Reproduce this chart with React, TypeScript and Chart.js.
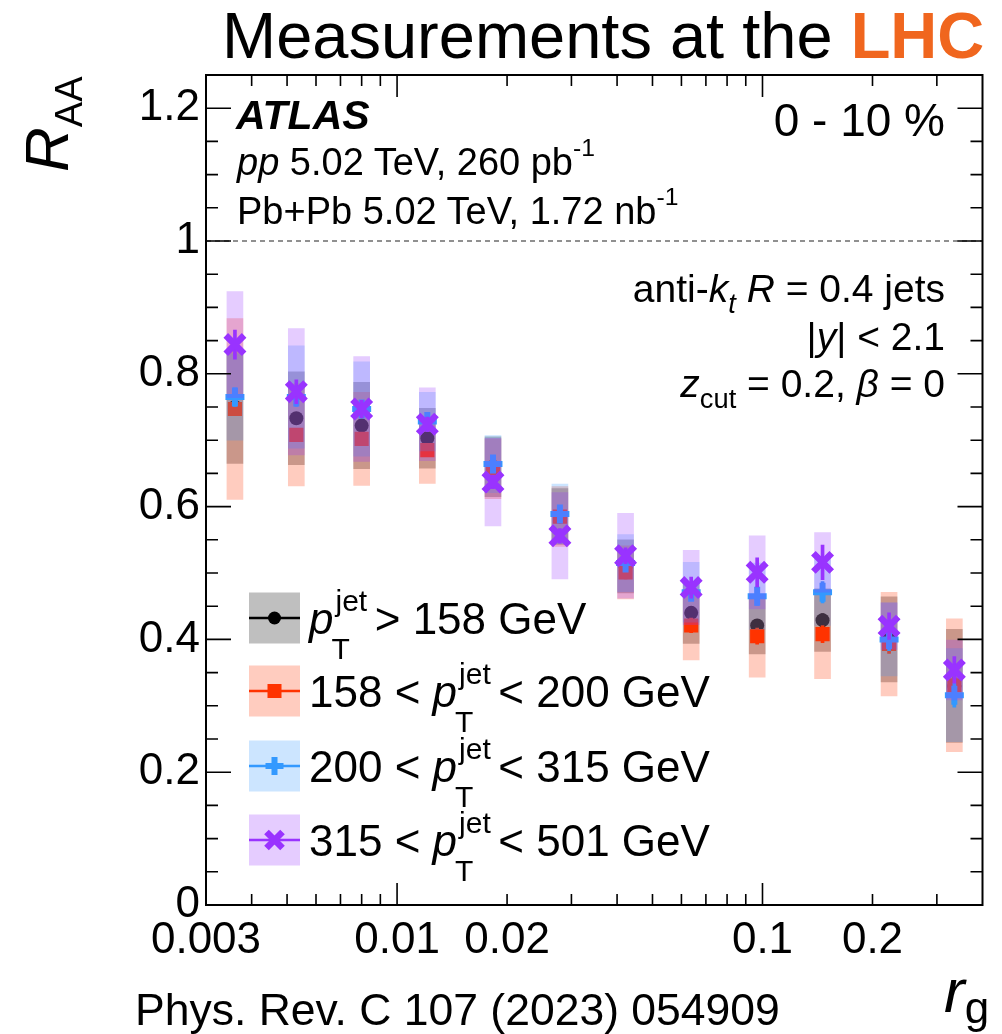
import React, { useEffect, useRef } from "react";
import { Chart, registerables } from "chart.js";

Chart.register(...registerables);

// ---------------- data ----------------
const rgBins = [0.0036, 0.0053, 0.008, 0.0121, 0.0183, 0.0279, 0.0422, 0.0638, 0.0967, 0.146, 0.222, 0.335];

// pT jet > 158 GeV (inclusive)
const incValues = [0.75, 0.733, 0.722, 0.703, 0.66, 0.585, 0.51, 0.44, 0.421, 0.429, 0.4, 0.33];
const incSyst = [0.085, 0.07, 0.065, 0.045, 0.045, 0.042, 0.04, 0.046, 0.043, 0.047, 0.064, 0.085];
const incStat = [0.006, 0.006, 0.006, 0.006, 0.006, 0.007, 0.007, 0.008, 0.009, 0.01, 0.011, 0.013];

// 158 < pT < 200 GeV
const lowValues = [0.747, 0.708, 0.702, 0.685, 0.657, 0.585, 0.501, 0.421, 0.405, 0.408, 0.393, 0.331];
const lowSyst = [0.136, 0.077, 0.07, 0.05, 0.045, 0.045, 0.04, 0.052, 0.062, 0.067, 0.078, 0.1];
const lowStat = [0.01, 0.009, 0.008, 0.008, 0.008, 0.009, 0.01, 0.011, 0.012, 0.013, 0.014, 0.016];

// 200 < pT < 315 GeV
const midValues = [0.765, 0.765, 0.747, 0.728, 0.664, 0.589, 0.515, 0.471, 0.465, 0.471, 0.4, 0.316];
const midSyst = [0.065, 0.077, 0.071, 0.044, 0.043, 0.045, 0.043, 0.045, 0.05, 0.05, 0.055, 0.07];
const midStat = [0.014, 0.014, 0.01, 0.009, 0.008, 0.009, 0.01, 0.012, 0.014, 0.016, 0.017, 0.018];

// 315 < pT < 501 GeV
const highValues = [0.844, 0.773, 0.747, 0.724, 0.637, 0.556, 0.526, 0.478, 0.501, 0.516, 0.42, 0.354];
const highSyst = [0.08, 0.095, 0.079, 0.055, 0.066, 0.065, 0.064, 0.056, 0.055, 0.045, 0.035, 0.045];
const highStat = [0.022, 0.018, 0.013, 0.011, 0.01, 0.011, 0.012, 0.016, 0.022, 0.026, 0.02, 0.02];

const xTickValues = [0.003, 0.01, 0.02, 0.1, 0.2];
const xTickLabels = ["0.003", "0.01", "0.02", "0.1", "0.2"];
const yTickValues = [0, 0.2, 0.4, 0.6, 0.8, 1, 1.2];
const yTickLabels = ["0", "0.2", "0.4", "0.6", "0.8", "1", "1.2"];

// ---------------- styles ----------------
const FONT = "'Liberation Sans', Arial, Helvetica, sans-serif";
const W = 1002;
const H = 1034;

const series = [
  { key: "inc", values: incValues, syst: incSyst, stat: incStat, color: "#000000", fill: "rgba(0,0,0,0.28)", legendFill: "rgba(0,0,0,0.25)", shape: "circle" },
  { key: "low", values: lowValues, syst: lowSyst, stat: lowStat, color: "#ff3300", fill: "rgba(255,51,0,0.25)", legendFill: "rgba(255,51,0,0.25)", shape: "rect" },
  { key: "mid", values: midValues, syst: midSyst, stat: midStat, color: "#3399ff", fill: "rgba(51,153,255,0.25)", legendFill: "rgba(51,153,255,0.25)", shape: "cross" },
  { key: "high", values: highValues, syst: highSyst, stat: highStat, color: "#9933ff", fill: "rgba(153,51,255,0.25)", legendFill: "rgba(153,51,255,0.25)", shape: "crossRot" },
];

const pointStyleOpts: Record<string, any> = {
  circle: { pointStyle: "circle", pointRadius: 7, pointBorderWidth: 0 },
  rect: { pointStyle: "rect", pointRadius: 10, pointBorderWidth: 0 },
  cross: { pointStyle: "cross", pointRadius: 9.5, pointBorderWidth: 6 },
  crossRot: { pointStyle: "crossRot", pointRadius: 13, pointBorderWidth: 6.5 },
};

const legendRowsY = [618, 691, 766, 840];

function drawMarker(ctx: CanvasRenderingContext2D, shape: string, x: number, y: number, color: string) {
  ctx.save();
  ctx.fillStyle = color;
  ctx.strokeStyle = color;
  if (shape === "circle") {
    ctx.beginPath();
    ctx.arc(x, y, 6.5, 0, Math.PI * 2);
    ctx.fill();
  } else if (shape === "rect") {
    ctx.fillRect(x - 7, y - 7, 14, 14);
  } else if (shape === "cross") {
    ctx.lineWidth = 6;
    ctx.beginPath();
    ctx.moveTo(x - 9, y);
    ctx.lineTo(x + 9, y);
    ctx.moveTo(x, y - 9);
    ctx.lineTo(x, y + 9);
    ctx.stroke();
  } else {
    ctx.lineWidth = 6.5;
    ctx.beginPath();
    ctx.moveTo(x - 8, y - 8);
    ctx.lineTo(x + 8, y + 8);
    ctx.moveTo(x + 8, y - 8);
    ctx.lineTo(x - 8, y + 8);
    ctx.stroke();
  }
  ctx.restore();
}

const framePlugin = {
  id: "atlasFrame",
  beforeDatasetsDraw(chart: any) {
    const { ctx, chartArea: a } = chart;
    const ys = chart.scales.y;
    const py = ys.getPixelForValue(1);
    ctx.save();
    ctx.strokeStyle = "#222";
    ctx.lineWidth = 1.2;
    ctx.setLineDash([5, 4]);
    ctx.beginPath();
    ctx.moveTo(a.left, py);
    ctx.lineTo(a.right, py);
    ctx.stroke();
    ctx.restore();
  },
  afterDatasetsDraw(chart: any) {
    const { ctx, chartArea: a } = chart;
    const xs = chart.scales.x;
    const ys = chart.scales.y;
    ctx.save();
    ctx.strokeStyle = "#000";
    ctx.lineWidth = 2;
    ctx.strokeRect(a.left, a.top, a.right - a.left, a.bottom - a.top);
    ctx.lineWidth = 1.6;
    ctx.beginPath();
    for (const d of [0.001, 0.01, 0.1]) {
      for (let k = 1; k < 10; k++) {
        const v = k * d;
        if (v < xs.min * 1.001 || v > xs.max * 0.999) continue;
        const px = xs.getPixelForValue(v);
        const len = k === 1 ? 22 : 11;
        ctx.moveTo(px, a.bottom);
        ctx.lineTo(px, a.bottom - len);
        ctx.moveTo(px, a.top);
        ctx.lineTo(px, a.top + len);
      }
    }
    for (let i = 1; i < 25; i++) {
      const py = ys.getPixelForValue(i * 0.05);
      const len = i % 4 === 0 ? 25 : 12;
      ctx.moveTo(a.left, py);
      ctx.lineTo(a.left + len, py);
      ctx.moveTo(a.right, py);
      ctx.lineTo(a.right - len, py);
    }
    ctx.stroke();

    // legend symbols
    series.forEach((s, i) => {
      const cy = legendRowsY[i];
      ctx.fillStyle = s.legendFill;
      ctx.fillRect(249, cy - 25.5, 51, 51);
      ctx.strokeStyle = s.color;
      ctx.lineWidth = 2.5;
      ctx.beginPath();
      ctx.moveTo(249, cy);
      ctx.lineTo(300, cy);
      ctx.stroke();
      drawMarker(ctx, s.shape, 274.5, cy, s.color);
    });
    ctx.restore();
  },
};

function buildDatasets() {
  const ds: any[] = [];
  let order = 40;
  series.forEach((s) => {
    ds.push({
      type: "bar",
      label: s.key + " syst",
      data: rgBins.map((x, i) => ({ x, y: [s.values[i] - s.syst[i], s.values[i] + s.syst[i]] })),
      backgroundColor: s.fill,
      borderWidth: 0,
      barThickness: 16,
      grouped: false,
      order: order--,
    });
    ds.push({
      type: "bar",
      label: s.key + " stat",
      data: rgBins.map((x, i) => ({ x, y: [s.values[i] - s.stat[i], s.values[i] + s.stat[i]] })),
      backgroundColor: s.color,
      borderWidth: 0,
      barThickness: 3,
      grouped: false,
      order: order--,
    });
    ds.push({
      type: "scatter",
      label: s.key,
      data: rgBins.map((x, i) => ({ x, y: s.values[i] })),
      pointBackgroundColor: s.color,
      pointBorderColor: s.color,
      ...pointStyleOpts[s.shape],
      order: order--,
    });
  });
  return ds;
}

function Txt(props: any) {
  const { x, base, size, align = "left", bold, italic, color, children } = props;
  const style: any = {
    position: "absolute",
    top: base - 0.8465 * size,
    fontSize: size,
    lineHeight: 1,
    whiteSpace: "nowrap",
    fontWeight: bold ? "bold" : "normal",
    fontStyle: italic ? "italic" : "normal",
    color: color || "#000",
  };
  if (align === "left") style.left = x;
  else if (align === "right") style.right = W - x;
  else {
    style.left = x;
    style.transform = "translateX(-50%)";
  }
  return <div style={style}>{children}</div>;
}

const Sub = (p: any) => (
  <span style={{ fontSize: "0.7em", position: "relative", top: "0.4em", fontStyle: p.italic ? "italic" : "normal" }}>{p.children}</span>
);
const Sup = (p: any) => (
  <span style={{ fontSize: "0.65em", position: "relative", top: "-0.75em" }}>{p.children}</span>
);

const PT = () => (
  <span>
    <i>p</i>
    <span style={{ display: "inline-block", position: "relative", width: 29 }}>
      <span style={{ position: "absolute", left: 2, bottom: 18, fontSize: 30, lineHeight: 1 }}>jet</span>
      <span style={{ position: "absolute", left: -2, top: 0, fontSize: 30, lineHeight: 1 }}>T</span>
    </span>
  </span>
);

export default function App() {
  const ref = useRef<HTMLCanvasElement>(null);
  useEffect(() => {
    const chart = new Chart(ref.current as HTMLCanvasElement, {
      type: "bar",
      data: { datasets: buildDatasets() },
      options: {
        responsive: false,
        animation: false,
        devicePixelRatio: 1,
        layout: { padding: { top: 75, right: 5, left: 0, bottom: 0 } },
        plugins: { legend: { display: false }, tooltip: { enabled: false }, title: { display: false } },
        scales: {
          x: {
            type: "logarithmic",
            min: 0.003,
            max: 0.4,
            offset: false,
            grid: { display: false, drawTicks: false },
            border: { display: false },
            afterBuildTicks: (s: any) => {
              s.ticks = xTickValues.map((v) => ({ value: v }));
            },
            afterFit: (s: any) => {
              s.height = 129;
            },
            ticks: {
              autoSkip: false,
              maxRotation: 0,
              minRotation: 0,
              padding: 9,
              color: "#000",
              font: { family: FONT, size: 44 },
              callback: (_v: any, i: number) => xTickLabels[i],
            },
          },
          y: {
            type: "linear",
            min: 0,
            max: 1.25,
            grid: { display: false, drawTicks: false },
            border: { display: false },
            afterBuildTicks: (s: any) => {
              s.ticks = yTickValues.map((v) => ({ value: v }));
            },
            afterFit: (s: any) => {
              s.width = 206;
            },
            ticks: {
              padding: 6,
              color: "#000",
              font: { family: FONT, size: 44 },
              callback: (_v: any, i: number) => yTickLabels[i],
            },
          },
        },
      } as any,
      plugins: [framePlugin],
    });
    return () => chart.destroy();
  }, []);

  return (
    <div style={{ position: "absolute", left: 0, top: 0, width: W, height: H, background: "#fff", fontFamily: FONT, color: "#000", overflow: "hidden" }}>
      <canvas ref={ref} width={W} height={H} style={{ position: "absolute", left: 0, top: 0, display: "block" }} />

      <Txt x={222} base={58} size={65}>
        Measurements at the <b style={{ color: "#f0661e" }}>LHC</b>
      </Txt>

      <div
        style={{
          position: "absolute",
          left: 15.5,
          top: 172,
          transform: "rotate(-90deg)",
          transformOrigin: "0 0",
          lineHeight: 1,
          whiteSpace: "nowrap",
        }}
      >
        <i style={{ fontSize: 62 }}>R</i>
        <span style={{ fontSize: 38, position: "relative", top: 14 }}>AA</span>
      </div>

      <Txt x={236} base={130} size={41} bold italic>ATLAS</Txt>
      <Txt x={237} base={175} size={38}>
        <i>pp</i> 5.02 TeV, 260 pb<Sup>-1</Sup>
      </Txt>
      <Txt x={237} base={224} size={38}>
        Pb+Pb 5.02 TeV, 1.72 nb<Sup>-1</Sup>
      </Txt>
      <Txt x={945} base={136} size={46} align="right">0 - 10 %</Txt>

      <Txt x={945} base={302} size={39} align="right">
        anti-<i>k</i><Sub italic>t</Sub> <i>R</i> = 0.4 jets
      </Txt>
      <Txt x={945} base={350} size={39} align="right">
        |<i>y</i>| &lt; 2.1
      </Txt>
      <Txt x={945} base={397} size={39} align="right">
        <i>z</i><Sub>cut</Sub> = 0.2, <i>β</i> = 0
      </Txt>

      <Txt x={309} base={legendRowsY[0] + 16} size={44}>
        <PT /> &gt; 158 GeV
      </Txt>
      <Txt x={309} base={legendRowsY[1] + 16} size={44}>
        158 &lt; <PT /> &lt; 200 GeV
      </Txt>
      <Txt x={309} base={legendRowsY[2] + 16} size={44}>
        200 &lt; <PT /> &lt; 315 GeV
      </Txt>
      <Txt x={309} base={legendRowsY[3] + 16} size={44}>
        315 &lt; <PT /> &lt; 501 GeV
      </Txt>

      <Txt x={135} base={1026} size={44.5}>Phys. Rev. C 107 (2023) 054909</Txt>
      <Txt x={944} base={1012} size={62}>
        <i>r</i>
        <span style={{ fontSize: 44, position: "relative", top: 11 }}>g</span>
      </Txt>
    </div>
  );
}
